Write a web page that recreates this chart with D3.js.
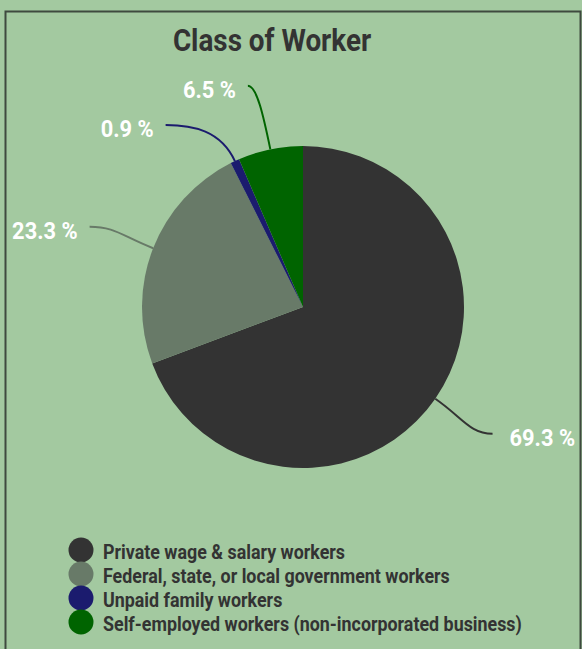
<!DOCTYPE html>
<html>
<head>
<meta charset="utf-8">
<script src="https://cdn.jsdelivr.net/npm/d3@7"></script>
<style>
  html, body { margin: 0; padding: 0; background: #a3c9a0; }
  svg { display: block; }
  text { font-family: Roboto, "Noto Sans", sans-serif; font-weight: 700; }
</style>
</head>
<body>
<svg id="chart" width="582" height="649"></svg>
<script>
// Class of worker shares (percent)
const categories = [
  "Private wage & salary workers",
  "Federal, state, or local government workers",
  "Unpaid family workers",
  "Self-employed workers (non-incorporated business)"
];
const shares = [69.3, 23.3, 0.9, 6.5];
const sliceColors = ["#333333", "#687a68", "#1b1b6e", "#006400"];
const titleText = "Class of Worker";

const W = 582, H = 649;
const cx = 303, cy = 307, radius = 161;
const labelRadius = 228;
// small angular nudges so neighbouring labels do not collide
const labelNudge = [-0.017, -0.014, -0.21, -0.04];

const svg = d3.select("#chart");

svg.append("rect")
  .attr("width", W).attr("height", H).attr("fill", "#a3c9a0");

// frame
svg.append("rect")
  .attr("x", 5.5).attr("y", 11.5)
  .attr("width", 575).attr("height", H + 20)
  .attr("fill", "none")
  .attr("stroke", "#3f4a3f")
  .attr("stroke-width", 2);

// title
svg.append("text")
  .attr("transform", "translate(272,51) scale(0.87,1)")
  .attr("text-anchor", "middle")
  .attr("font-size", 32)
  .attr("fill", "#333333")
  .text(titleText);

const pie = d3.pie().sort(null).value(d => d);
const arcs = pie(shares);
const arc = d3.arc().innerRadius(0).outerRadius(radius);

const g = svg.append("g").attr("transform", `translate(${cx},${cy})`);

g.selectAll("path.slice")
  .data(arcs)
  .join("path")
  .attr("class", "slice")
  .attr("d", arc)
  .attr("fill", (d, i) => sliceColors[i]);

// leader lines and value labels
const polar = (r, a) => [r * Math.sin(a), -r * Math.cos(a)];

arcs.forEach((d, i) => {
  const mid = (d.startAngle + d.endAngle) / 2;
  const A = polar(radius, mid);
  const E = polar(labelRadius, mid + labelNudge[i]);
  const right = E[0] > 0;
  const dirX = right ? 1 : -1;
  const radialLen = (labelRadius - radius) * 0.5;
  const C1 = polar(radius + radialLen, mid);
  const C2 = [E[0] - dirX * Math.abs(E[0] - A[0]) * 0.4, E[1]];
  const p = d3.path();
  p.moveTo(A[0], A[1]);
  p.bezierCurveTo(C1[0], C1[1], C2[0], C2[1], E[0], E[1]);
  g.append("path")
    .attr("d", p.toString())
    .attr("fill", "none")
    .attr("stroke", sliceColors[i])
    .attr("stroke-width", 2);

  const tx = E[0] + (right ? 17 : -12);
  const ty = E[1] + 12;
  g.append("text")
    .attr("transform", `translate(${tx},${ty}) scale(0.95,1)`)
    .attr("text-anchor", right ? "start" : "end")
    .attr("font-size", 23)
    .attr("fill", "#ffffff")
    .text(`${d.data} %`);
});

// legend
const legend = svg.append("g").attr("transform", "translate(81,550)");
const rowH = 24;
const items = legend.selectAll("g.item")
  .data(categories)
  .join("g")
  .attr("class", "item")
  .attr("transform", (d, i) => `translate(0,${i * rowH})`);

items.append("circle")
  .attr("r", 12.5)
  .attr("fill", (d, i) => sliceColors[i]);

items.append("text")
  .attr("transform", "translate(22,9) scale(0.893,1)")
  .attr("font-size", 20)
  .attr("fill", "#333333")
  .text(d => d);
</script>
</body>
</html>
